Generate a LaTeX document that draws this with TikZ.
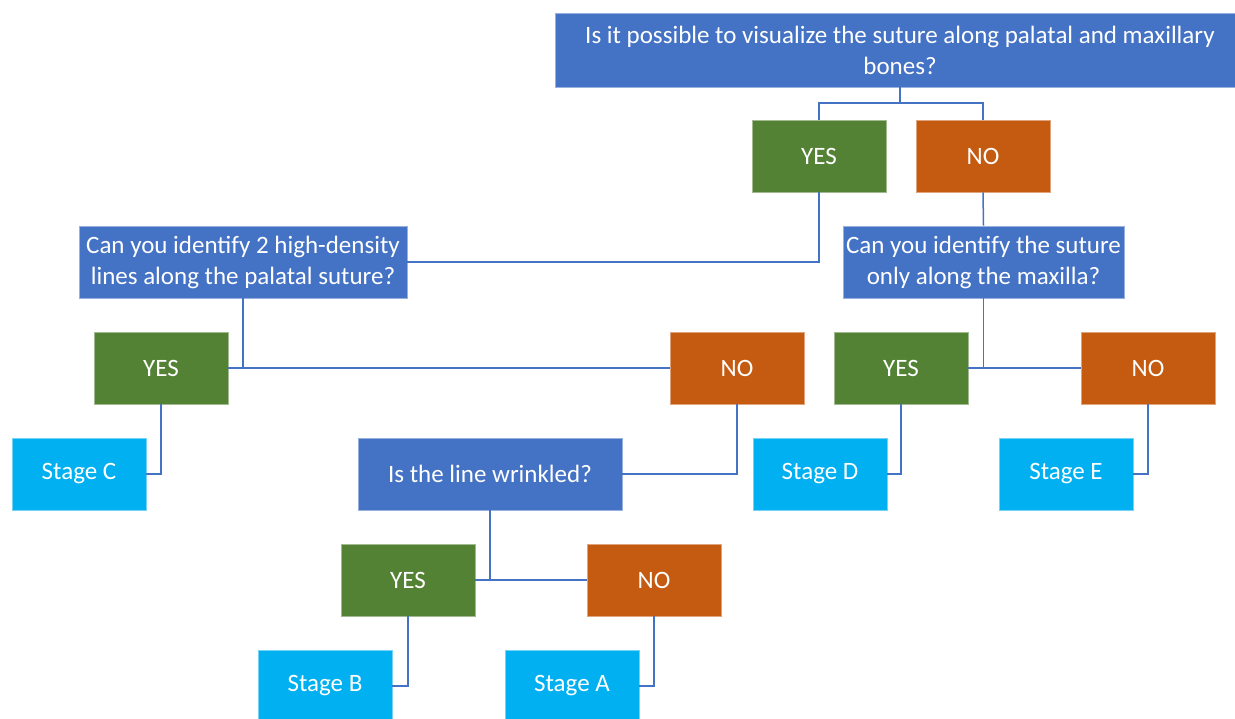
\documentclass[tikz,border=0pt]{standalone}
\usepackage{fontspec}
\setmainfont{Carlito}
\usepackage{tikz}
\usetikzlibrary{calc}

\definecolor{qblue}{HTML}{4472C4}
\definecolor{ygreen}{HTML}{548235}
\definecolor{norange}{HTML}{C55A11}
\definecolor{scyan}{HTML}{00B0F0}

\begin{document}
\begin{tikzpicture}[x=1pt,y=-1pt,
    box/.style={rectangle, fill=#1, draw=#1!55!white, line width=0.8pt,
      text=white, align=center, inner sep=2pt, minimum height=72pt,
      font=\fontsize{25}{31}\selectfont},
    qbox/.style={box=qblue},
    yesbox/.style={box=ygreen, minimum width=134pt},
    nobox/.style={box=norange, minimum width=134pt},
    stagebox/.style={box=scyan, minimum width=134pt},
    link/.style={draw=qblue, line width=1.5pt}]
  \useasboundingbox (0,0) rectangle (1235,718);
  % questions
  \node[qbox, minimum width=690pt, minimum height=74pt] (top) at (900,50)
    {Is it possible to visualize the suture along palatal and maxillary\\bones?};
  \node[qbox, minimum width=328pt] (q2) at (243,262)
    {Can you identify 2 high-density\\lines along the palatal suture?};
  \node[qbox, minimum width=281pt] (q3) at (983.5,262)
    {Can you identify the suture\\only along the maxilla?};
  \node[qbox, minimum width=264pt] (q4) at (490,474) {Is the line wrinkled?};
  % answers
  \node[yesbox] (yes1) at (819,156) {YES};
  \node[nobox] (no1) at (983,156) {NO};
  \node[yesbox] (yes2) at (161,368) {YES};
  \node[nobox] (no2) at (737,368) {NO};
  \node[yesbox] (yes3) at (901,368) {YES};
  \node[nobox] (no3) at (1148,368) {NO};
  \node[yesbox] (yes4) at (408,580) {YES};
  \node[nobox] (no4) at (654,580) {NO};
  % stages
  \node[stagebox] (stagec) at (79,474) {Stage C};
  \node[stagebox] (staged) at (820,474) {Stage D};
  \node[stagebox] (stagee) at (1066,474) {Stage E};
  \node[stagebox] (stageb) at (325,686) {Stage B};
  \node[stagebox] (stagea) at (572,686) {Stage A};
  % connectors
  \coordinate (split1) at (900,103);
  \draw[link] (top.south) -- (split1);
  \draw[link] (yes1.north) |- (split1) -| (no1.north);
  \draw[link] (yes1.south) |- (q2.east);
  \draw[link] (no1.south) -- (q3.north);
  \draw[link] (q2.south) -- (q2.south |- yes2.east);
  \draw[link] (yes2.east) -- (no2.west);
  \draw[link] (q3.south) -- (q3.south |- yes3.east);
  \draw[link] (yes3.east) -- (no3.west);
  \draw[link] (yes2.south) |- (stagec.east);
  \draw[link] (no2.south) |- (q4.east);
  \draw[link] (yes3.south) |- (staged.east);
  \draw[link] (no3.south) |- (stagee.east);
  \draw[link] (q4.south) -- (q4.south |- yes4.east);
  \draw[link] (yes4.east) -- (no4.west);
  \draw[link] (yes4.south) |- (stageb.east);
  \draw[link] (no4.south) |- (stagea.east);
\end{tikzpicture}
\end{document}
